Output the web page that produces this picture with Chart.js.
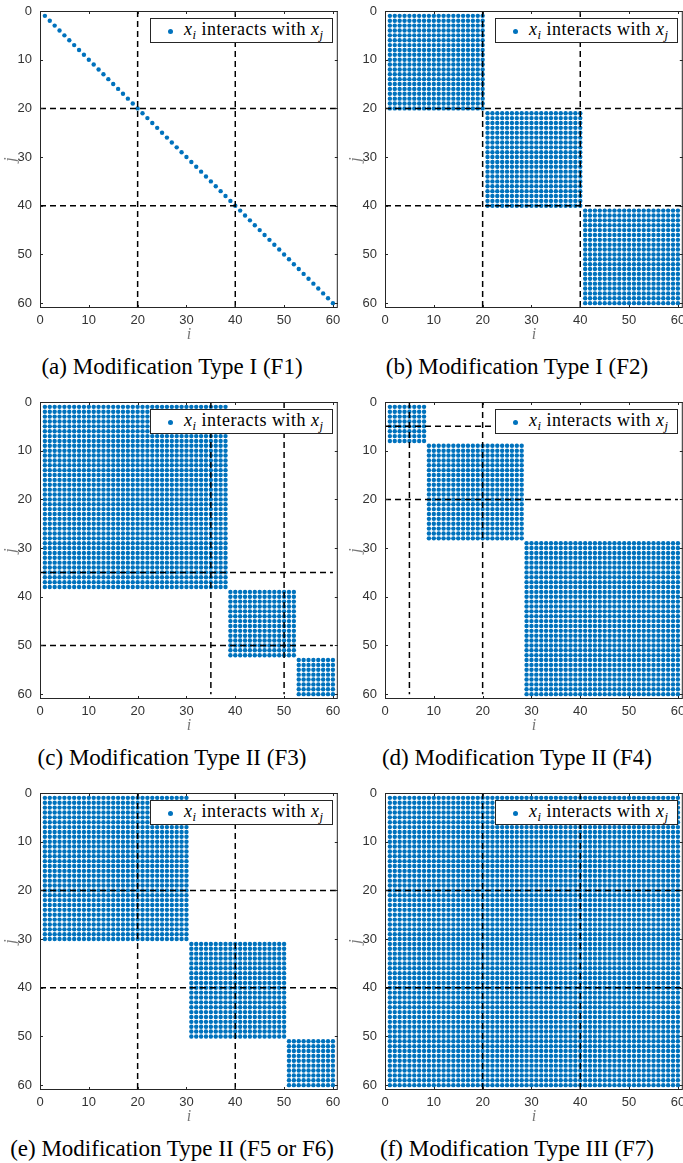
<!DOCTYPE html>
<html lang="en">
<head>
<meta charset="utf-8">
<script src="https://cdn.jsdelivr.net/npm/chart.js"></script>
<style>
    body { margin: 0; width: 683px; height: 1163px; background: #fff; position: relative; overflow: hidden; }
    .panel { position: absolute; width: 345px; height: 391px; }
    .panel canvas { position: absolute; left: 0; top: 0; }
    .legend {
        position: absolute; left: 150px; top: 18px; width: 181px; height: 23px;
        background: #fff; border: 1px solid #262626;
        font-family: "Liberation Serif", serif; font-size: 18px; line-height: 23px; color: #000;
        letter-spacing: 0.5px; white-space: nowrap;
    }
    .legend .dot {
        position: absolute; left: 17px; top: 10px; width: 5px; height: 5px;
        border-radius: 50%; background: #0072BD;
    }
    .legend .txt { position: absolute; left: 33px; top: -1px; }
    .legend sub { font-size: 70%; vertical-align: -0.3em; line-height: 0; }
    .caption {
        position: absolute; left: 0; top: 353px; width: 344px; text-align: center;
        font-family: "Liberation Serif", serif; font-size: 23px; line-height: 28px; color: #000;
        white-space: nowrap;
    }
</style>
</head>
<body>

<script>
    // axis ticks shared by every panel
    const tickVals = [0, 10, 20, 30, 40, 50, 60];

    // interacting groups of variables [first, last]
    const f1Range = [1, 60];                       // each x_i only with itself
    const f2Groups = [[1, 20], [21, 40], [41, 60]];
    const f3Groups = [[1, 38], [39, 52], [53, 60]];
    const f4Groups = [[1, 8], [9, 28], [29, 60]];
    const f56Groups = [[1, 30], [31, 50], [51, 60]];
    const f7Groups = [[1, 60]];

    // dashed split positions and how far they run
    const f1Cuts = [20, 40];
    const f2Cuts = [20, 40];
    const f3Cuts = [35, 50];
    const f4Cuts = [5, 20];
    const f56Cuts = [20, 40];
    const f7Cuts = [20, 40];
    const cutEnds = [61, 61, 60, 60, 61, 61];

    const captions = [
        '(a) Modification Type I (F1)',
        '(b) Modification Type I (F2)',
        '(c) Modification Type II (F3)',
        '(d) Modification Type II (F4)',
        '(e) Modification Type II (F5 or F6)',
        '(f) Modification Type III (F7)'
    ];

    function diagPoints(range) {
        const pts = [];
        for (let k = range[0]; k <= range[1]; k++) pts.push({ x: k, y: k });
        return pts;
    }

    function blockPoints(groups) {
        const pts = [];
        groups.forEach(([a, b]) => {
            for (let i = a; i <= b; i++)
                for (let j = a; j <= b; j++) pts.push({ x: i, y: j });
        });
        return pts;
    }

    function dashed(data) {
        return {
            type: 'line', data: data, showLine: true,
            borderColor: '#000', borderWidth: 1.5, borderDash: [6, 4],
            pointRadius: 0, fill: false, order: 0
        };
    }

    // box around the axes with small inward ticks on all four sides
    const framePlugin = {
        id: 'frame',
        afterDatasetsDraw(chart) {
            const { ctx, chartArea: a, scales: { x, y } } = chart;
            ctx.save();
            ctx.strokeStyle = '#262626';
            ctx.lineWidth = 1;
            ctx.strokeRect(a.left + 0.5, a.top + 0.5, a.right - a.left - 1, a.bottom - a.top - 1);
            ctx.beginPath();
            tickVals.forEach(v => {
                const px = Math.round(x.getPixelForValue(v)) + 0.5;
                ctx.moveTo(px, a.bottom); ctx.lineTo(px, a.bottom - 3);
                ctx.moveTo(px, a.top); ctx.lineTo(px, a.top + 3);
                const py = Math.round(y.getPixelForValue(v)) + 0.5;
                ctx.moveTo(a.left, py); ctx.lineTo(a.left + 3, py);
                ctx.moveTo(a.right, py); ctx.lineTo(a.right - 3, py);
            });
            ctx.stroke();
            ctx.restore();
        }
    };

    const tickFont = { family: '"Liberation Sans", Arial, sans-serif', size: 13 };
    const labelFont = { family: '"Liberation Serif", serif', size: 16, style: 'italic' };

    function makePanel(n, points, cuts, cutEnd) {
        const panel = document.createElement('div');
        panel.className = 'panel';
        panel.style.left = (n % 2) * 345 + 'px';
        panel.style.top = Math.floor(n / 2) * 391 + 'px';

        const canvas = document.createElement('canvas');
        canvas.width = 340;
        canvas.height = 345;
        canvas.style.width = '340px';
        canvas.style.height = '345px';
        panel.appendChild(canvas);

        const legend = document.createElement('div');
        legend.className = 'legend';
        legend.innerHTML = '<span class="dot"></span><span class="txt"><i>x</i><sub><i>i</i></sub> interacts with <i>x</i><sub><i>j</i></sub></span>';
        panel.appendChild(legend);

        const cap = document.createElement('div');
        cap.className = 'caption';
        cap.textContent = captions[n];
        panel.appendChild(cap);

        document.body.appendChild(panel);

        const datasets = [];
        cuts.forEach(c => {
            datasets.push(dashed([{ x: c, y: 0 }, { x: c, y: cutEnd }]));
            datasets.push(dashed([{ x: 0, y: c }, { x: cutEnd, y: c }]));
        });
        datasets.push({
            type: 'scatter', label: 'x_i interacts with x_j', data: points,
            pointRadius: 2.2, pointHoverRadius: 2.2, backgroundColor: '#0072BD', borderWidth: 0, order: 1
        });

        new Chart(canvas, {
            type: 'scatter',
            data: { datasets: datasets },
            plugins: [framePlugin],
            options: {
                responsive: false,
                animation: false,
                layout: { padding: { top: 11, right: 2, bottom: 0, left: 0 } },
                plugins: { legend: { display: false }, tooltip: { enabled: false } },
                scales: {
                    x: {
                        type: 'linear', position: 'bottom', min: 0, max: 61,
                        grid: { display: false, drawTicks: false },
                        border: { display: false },
                        ticks: { padding: 5, color: '#333', font: tickFont },
                        title: { display: true, text: 'i', color: '#777', font: labelFont, padding: { top: 0, bottom: 1 } },
                        afterBuildTicks: s => { s.ticks = tickVals.map(v => ({ value: v })); },
                        afterFit: s => { s.height = 37; s.paddingLeft = 0; s.paddingRight = 0; }
                    },
                    y: {
                        type: 'linear', position: 'left', min: 0, max: 61, reverse: true,
                        grid: { display: false, drawTicks: false },
                        border: { display: false },
                        ticks: { padding: 8, color: '#333', font: tickFont },
                        title: { display: true, text: 'j', color: '#777', font: labelFont, padding: { top: 1, bottom: 0 } },
                        afterBuildTicks: s => { s.ticks = tickVals.map(v => ({ value: v })); },
                        afterFit: s => { s.width = 40; s.paddingTop = 0; s.paddingBottom = 0; }
                    }
                }
            }
        });
    }

    makePanel(0, diagPoints(f1Range), f1Cuts, cutEnds[0]);
    makePanel(1, blockPoints(f2Groups), f2Cuts, cutEnds[1]);
    makePanel(2, blockPoints(f3Groups), f3Cuts, cutEnds[2]);
    makePanel(3, blockPoints(f4Groups), f4Cuts, cutEnds[3]);
    makePanel(4, blockPoints(f56Groups), f56Cuts, cutEnds[4]);
    makePanel(5, blockPoints(f7Groups), f7Cuts, cutEnds[5]);
</script>
</body>
</html>
